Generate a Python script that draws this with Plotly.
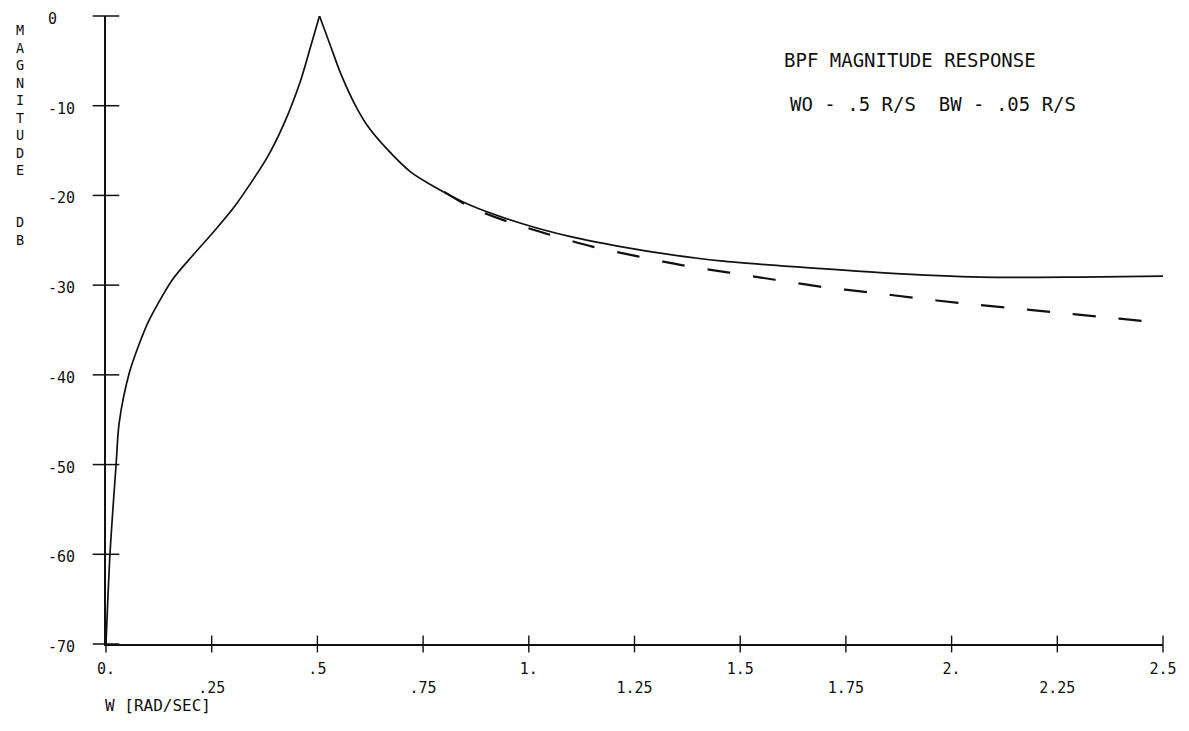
import plotly.graph_objects as go

# ---- data ----
solid_w = [0.0, 0.0095, 0.024, 0.031, 0.055, 0.079, 0.102, 0.157, 0.205, 0.25, 0.303,
           0.382, 0.421, 0.461, 0.484, 0.505, 0.53, 0.555, 0.587, 0.618, 0.666, 0.721,
           0.768, 0.862, 0.981, 1.099, 1.217, 1.335, 1.453, 1.642, 1.831, 2.068, 2.304, 2.5]
solid_db = [-70.0, -59.9, -49.9, -45.4, -39.8, -36.5, -33.9, -29.4, -26.7, -24.3, -21.3,
            -15.7, -12.0, -7.1, -3.4, 0.0, -3.2, -6.4, -9.7, -12.2, -14.9, -17.4,
            -18.8, -21.1, -23.1, -24.6, -25.7, -26.6, -27.3, -28.0, -28.6, -29.1, -29.1, -29.0]

dash_w = [0.80, 0.862, 0.937, 1.044, 1.150, 1.258, 1.365, 1.474, 1.582, 1.693, 1.804,
          1.910, 2.020, 2.131, 2.239, 2.347, 2.455, 2.5]
dash_db = [-19.6, -21.3, -22.7, -24.3, -25.7, -26.8, -27.8, -28.6, -29.4, -30.2, -30.8,
           -31.4, -32.0, -32.5, -33.0, -33.5, -34.0, -34.2]

x_tickvals = [0, 0.25, 0.5, 0.75, 1.0, 1.25, 1.5, 1.75, 2.0, 2.25, 2.5]
x_ticklabels = ["0.", ".25", ".5", ".75", "1.", "1.25", "1.5", "1.75", "2.", "2.25", "2.5"]
y_tickvals = [0, -10, -20, -30, -40, -50, -60, -70]
y_ticklabels = ["0", "-10", "-20", "-30", "-40", "-50", "-60", "-70"]

title_line1 = "BPF MAGNITUDE RESPONSE"
title_line2 = "WO - .5 R/S\u00a0\u00a0BW - .05 R/S"
ylabel_word1 = "MAGNITUDE"
ylabel_word2 = "DB"
xlabel = "W [RAD/SEC]"

FONT = "DejaVu Sans Mono"
INK = "#111111"
X_MIN, X_MAX = 0, 2.5
Y_MIN, Y_MAX = -70, 0

fig = go.Figure()

# solid curve, split at its peak so the cusp stays sharp
peak = solid_db.index(max(solid_db))
for seg_w, seg_db in ((solid_w[:peak + 1], solid_db[:peak + 1]),
                      (solid_w[peak:], solid_db[peak:])):
    fig.add_trace(go.Scatter(x=seg_w, y=seg_db, mode="lines",
                             line=dict(color=INK, width=1.7, shape="spline", smoothing=0.8),
                             hoverinfo="skip"))

fig.add_trace(go.Scatter(x=dash_w, y=dash_db, mode="lines",
                         line=dict(color=INK, width=2.2, dash="23px,23px",
                                   shape="spline", smoothing=0.8),
                         hoverinfo="skip"))

# crossing tick marks on both axes
fig.add_trace(go.Scatter(x=[X_MIN] * len(y_tickvals), y=y_tickvals, mode="markers",
                         marker=dict(symbol="line-ew", size=19,
                                     line=dict(color=INK, width=1.5)),
                         cliponaxis=False, hoverinfo="skip"))
fig.add_trace(go.Scatter(x=x_tickvals, y=[Y_MIN] * len(x_tickvals), mode="markers",
                         marker=dict(symbol="line-ns", size=12,
                                     line=dict(color=INK, width=1.4)),
                         cliponaxis=False, hoverinfo="skip"))

# staggered x tick labels (every other one on a second row)
x_ticktext = [t if i % 2 == 0 else "<br>" + t for i, t in enumerate(x_ticklabels)]

annotations = []
for v, t in zip(y_tickvals, y_ticklabels):
    annotations.append(dict(text=t, xref="paper", x=0, xshift=-60, xanchor="left",
                            yref="y", y=v, yanchor="middle", yshift=-3, showarrow=False,
                            font=dict(family=FONT, size=15, color=INK)))
annotations.append(dict(text="<br>".join(ylabel_word1), xref="paper", x=0, xshift=-86,
                        xanchor="center", yref="paper", y=1, yshift=-84, yanchor="middle",
                        showarrow=False, font=dict(family=FONT, size=13.5, color=INK)))
annotations.append(dict(text="<br>".join(ylabel_word2), xref="paper", x=0, xshift=-86,
                        xanchor="center", yref="paper", y=1, yshift=-215, yanchor="middle",
                        showarrow=False, font=dict(family=FONT, size=13.5, color=INK)))
annotations.append(dict(text=xlabel, xref="paper", x=0, xshift=-3, xanchor="left",
                        yref="paper", y=0, yshift=-61, yanchor="middle", showarrow=False,
                        font=dict(family=FONT, size=16, color=INK)))
annotations.append(dict(text=title_line1, xref="paper", x=(910 - 106) / 1057, xanchor="center",
                        yref="paper", y=1, yshift=-44, yanchor="middle", showarrow=False,
                        font=dict(family=FONT, size=19, color=INK)))
annotations.append(dict(text=title_line2, xref="paper", x=(933 - 106) / 1057, xanchor="center",
                        yref="paper", y=1, yshift=-88, yanchor="middle", showarrow=False,
                        font=dict(family=FONT, size=19, color=INK)))

fig.update_layout(
    width=1189, height=731,
    margin=dict(l=106, r=26, t=16, b=87),
    paper_bgcolor="white", plot_bgcolor="white",
    showlegend=False,
    xaxis=dict(range=[X_MIN, X_MAX], tickvals=x_tickvals, ticktext=x_ticktext, ticks="",
               showgrid=False, zeroline=False, showline=True, linecolor=INK, linewidth=1.5,
               ticklabelstandoff=10, tickfont=dict(family=FONT, size=15, color=INK)),
    yaxis=dict(range=[Y_MIN, Y_MAX], tickvals=y_tickvals, ticks="", showticklabels=False,
               showgrid=False, zeroline=False, showline=True, linecolor=INK, linewidth=1.5),
    annotations=annotations,
)

fig.write_html("out.html")
